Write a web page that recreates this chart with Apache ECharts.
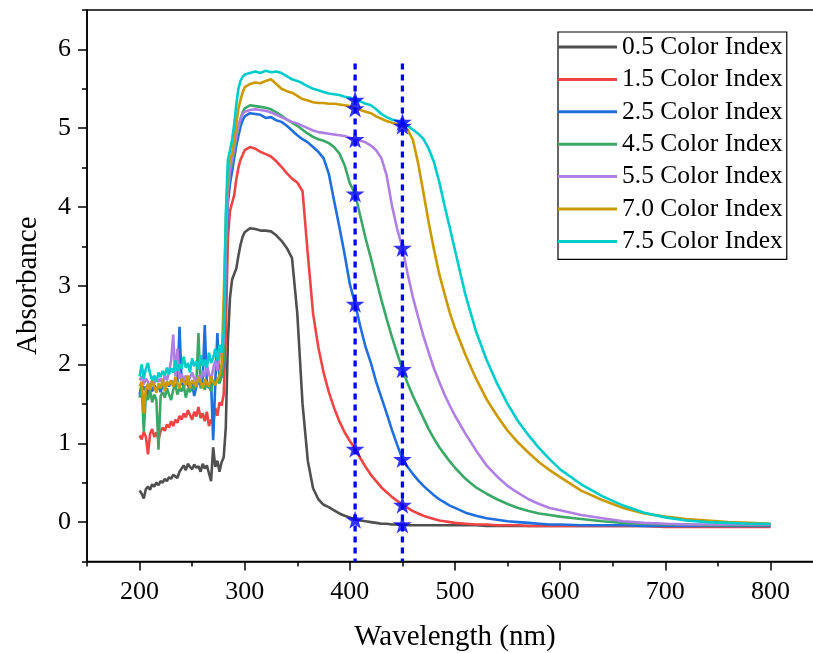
<!DOCTYPE html>
<html>
<head>
<meta charset="utf-8">
<script src="https://cdn.jsdelivr.net/npm/echarts@6/dist/echarts.min.js"></script>
<style>
  html, body { margin: 0; padding: 0; background: #ffffff; }
  #chart { width: 813px; height: 653px; }
</style>
</head>
<body>
<div id="chart"></div>
<script>
// Wavelength grid (nm) shared by every absorbance spectrum
const wavelength = [
  200,202,204,206,208,210,212,214,216,218,
  220,222,224,226,228,230,232,234,236,238,
  240,242,244,246,248,250,252,254,256,258,
  260,262,264,266,268,270,272,274,276,278,
  280,
  282,284,286,288,290,292,294,296,298,300,
  305,310,315,320,325,330,335,340,345,350,
  355,360,365,370,375,380,385,390,395,400,
  405,410,415,420,425,430,435,440,445,450,
  455,460,465,470,475,480,485,490,495,500,
  510,520,530,540,550,560,570,580,590,600,
  620,640,660,680,700,720,740,760,780,800
];

const seriesNames = [
  '0.5 Color Index', '1.5 Color Index', '2.5 Color Index', '4.5 Color Index',
  '5.5 Color Index', '7.0 Color Index', '7.5 Color Index'
];

const abs05 = [
  0.40,0.36,0.30,0.42,0.45,0.41,0.48,0.45,0.50,0.47,
  0.52,0.50,0.55,0.52,0.57,0.55,0.60,0.58,0.56,0.64,
  0.68,0.72,0.66,0.74,0.70,0.67,0.73,0.69,0.71,0.64,
  0.74,0.68,0.72,0.62,0.52,0.95,0.70,0.78,0.64,0.76,
  0.82,
  1.20,2.30,2.85,3.08,3.15,3.22,3.38,3.52,3.62,3.68,
  3.73,3.72,3.70,3.70,3.69,3.64,3.57,3.48,3.35,2.65,
  1.50,0.78,0.43,0.29,0.22,0.19,0.15,0.11,0.08,0.06,
  0.03,0.02,0.01,0.00,-0.01,-0.02,-0.02,-0.03,-0.03,-0.03,
  -0.04,-0.04,-0.04,-0.04,-0.04,-0.04,-0.04,-0.04,-0.04,-0.04,
  -0.04,-0.04,-0.05,-0.05,-0.05,-0.05,-0.05,-0.05,-0.05,-0.05,
  -0.05,-0.05,-0.05,-0.05,-0.05,-0.05,-0.05,-0.05,-0.05,-0.05
];

const abs15 = [
  1.10,1.05,1.15,1.08,0.86,1.12,1.18,1.08,1.14,1.05,
  1.15,1.20,1.16,1.24,1.20,1.28,1.22,1.30,1.26,1.35,
  1.30,1.38,1.33,1.42,1.36,1.30,1.40,1.34,1.46,1.32,
  1.38,1.28,1.40,1.22,1.30,1.25,1.45,1.35,1.52,1.48,
  1.62,
  2.40,3.60,3.95,4.05,4.15,4.35,4.50,4.60,4.66,4.72,
  4.76,4.74,4.70,4.67,4.64,4.58,4.51,4.43,4.36,4.31,
  4.20,3.40,2.65,2.22,1.90,1.65,1.45,1.28,1.14,1.03,
  0.93,0.81,0.70,0.60,0.52,0.44,0.38,0.32,0.27,0.22,
  0.18,0.14,0.11,0.08,0.06,0.04,0.02,0.01,0.00,-0.01,
  -0.02,-0.03,-0.03,-0.04,-0.04,-0.04,-0.05,-0.05,-0.05,-0.05,
  -0.05,-0.05,-0.05,-0.05,-0.06,-0.06,-0.06,-0.06,-0.06,-0.06
];

const abs25 = [
  1.62,1.75,1.68,1.72,1.60,1.70,1.66,1.74,1.68,1.72,
  1.65,1.75,1.70,1.78,1.72,1.80,1.74,1.70,1.78,2.48,
  1.76,1.72,1.80,1.74,1.68,1.76,1.60,1.72,1.78,1.74,
  1.80,2.50,1.75,1.70,1.78,1.04,1.76,2.40,1.80,1.85,
  2.00,
  3.20,4.05,4.30,4.45,4.62,4.78,4.90,5.02,5.10,5.15,
  5.19,5.18,5.17,5.13,5.14,5.10,5.08,5.03,4.97,4.91,
  4.86,4.82,4.76,4.70,4.62,4.42,4.08,3.75,3.40,3.02,
  2.77,2.48,2.22,2.02,1.78,1.58,1.38,1.17,0.98,0.80,
  0.70,0.61,0.53,0.46,0.40,0.34,0.29,0.25,0.21,0.18,
  0.12,0.08,0.05,0.03,0.01,0.00,-0.01,-0.02,-0.03,-0.03,
  -0.04,-0.04,-0.04,-0.05,-0.05,-0.05,-0.05,-0.05,-0.05,-0.05
];

const abs45 = [
  1.58,1.72,1.15,1.60,1.55,1.68,1.52,1.62,1.55,0.92,
  1.60,1.65,1.58,1.70,1.62,1.55,1.68,1.75,1.62,1.70,
  1.66,1.74,1.58,1.70,1.65,1.72,1.68,1.76,2.40,1.70,
  1.74,1.68,1.78,1.72,1.66,1.80,1.74,1.82,1.76,1.85,
  2.05,
  3.50,4.25,4.45,4.55,4.72,4.88,5.00,5.12,5.20,5.25,
  5.29,5.28,5.27,5.26,5.24,5.20,5.16,5.11,5.07,5.03,
  4.98,4.93,4.89,4.86,4.84,4.81,4.76,4.68,4.53,4.30,
  4.17,3.88,3.60,3.35,3.08,2.82,2.58,2.35,2.14,1.94,
  1.76,1.60,1.46,1.32,1.18,1.06,0.95,0.86,0.77,0.69,
  0.55,0.44,0.36,0.29,0.23,0.18,0.14,0.11,0.09,0.07,
  0.04,0.01,-0.01,-0.02,-0.03,-0.03,-0.04,-0.04,-0.04,-0.04
];

const abs55 = [
  1.80,1.85,1.75,1.82,1.78,1.72,1.80,1.76,1.84,1.78,
  1.82,1.76,1.86,1.80,1.90,2.05,2.38,1.85,2.20,1.82,
  1.88,1.80,1.86,1.78,1.84,1.90,1.82,1.78,1.86,1.80,
  1.92,1.84,2.00,1.88,1.80,1.95,2.05,1.92,2.10,2.15,
  2.30,
  3.40,4.20,4.48,4.60,4.75,4.90,5.02,5.12,5.18,5.21,
  5.23,5.24,5.23,5.22,5.20,5.17,5.14,5.11,5.08,5.06,
  5.03,5.00,4.97,4.95,4.94,4.93,4.92,4.91,4.90,4.88,
  4.86,4.84,4.82,4.78,4.72,4.62,4.40,4.02,3.72,3.48,
  3.15,2.85,2.60,2.36,2.15,1.95,1.78,1.62,1.48,1.35,
  1.12,0.91,0.72,0.58,0.46,0.37,0.29,0.23,0.18,0.15,
  0.09,0.05,0.01,-0.01,-0.02,-0.03,-0.03,-0.03,-0.03,-0.03
];

const abs70 = [
  1.72,1.78,1.38,1.70,1.75,1.68,1.80,1.72,1.64,1.76,
  1.70,1.82,1.66,1.78,1.74,1.80,1.72,1.84,1.76,1.70,
  1.82,1.78,1.74,1.86,1.70,1.80,1.76,1.72,1.84,1.78,
  1.70,1.82,1.76,1.72,1.85,1.78,1.74,1.80,1.86,2.00,
  2.85,
  3.80,4.45,4.60,4.68,4.85,5.05,5.25,5.36,5.45,5.52,
  5.56,5.58,5.57,5.60,5.62,5.56,5.50,5.47,5.45,5.41,
  5.37,5.35,5.33,5.32,5.32,5.31,5.31,5.30,5.29,5.28,
  5.25,5.23,5.21,5.19,5.15,5.12,5.09,5.07,5.05,5.03,
  4.98,4.85,4.55,4.18,3.80,3.46,3.15,2.90,2.66,2.46,
  2.12,1.82,1.56,1.35,1.16,1.01,0.88,0.76,0.66,0.57,
  0.40,0.28,0.18,0.11,0.07,0.04,0.02,0.00,-0.01,-0.02
];

const abs75 = [
  1.85,2.00,1.82,1.95,2.02,1.88,1.80,1.86,1.78,1.90,
  1.84,1.92,1.86,1.96,1.88,1.95,1.90,2.05,1.92,2.00,
  1.95,2.10,1.96,2.02,1.90,2.08,1.98,2.04,1.94,2.12,
  1.98,2.06,1.96,2.15,2.02,2.08,2.20,2.05,2.25,2.15,
  2.40,
  3.90,4.60,4.72,4.85,5.05,5.30,5.50,5.60,5.65,5.68,
  5.70,5.72,5.70,5.73,5.71,5.72,5.70,5.66,5.62,5.60,
  5.57,5.53,5.50,5.48,5.46,5.44,5.43,5.42,5.40,5.39,
  5.36,5.34,5.31,5.29,5.24,5.18,5.14,5.11,5.09,5.08,
  5.03,4.98,4.93,4.86,4.74,4.57,4.32,4.02,3.74,3.45,
  2.88,2.42,2.06,1.76,1.50,1.28,1.10,0.94,0.80,0.67,
  0.48,0.33,0.21,0.12,0.06,0.02,0.00,-0.01,-0.02,-0.02
];

const spectra = [abs05, abs15, abs25, abs45, abs55, abs70, abs75];

// Reference wavelengths and the absorbance read at each of them
const markerWavelengths = [405, 450];
const starsAt405 = [0.03, 0.93, 2.77, 4.17, 4.86, 5.25, 5.36];
const starsAt450 = [-0.03, 0.22, 0.80, 1.94, 3.48, 5.03, 5.08];

// Axis ticks
const xTickLabels = [200, 300, 400, 500, 600, 700, 800];
const xMinorTicks = [150, 250, 350, 450, 550, 650, 750, 850];
const yTickLabels = [0, 1, 2, 3, 4, 5, 6];
const yMinorTicks = [-0.5, 0.5, 1.5, 2.5, 3.5, 4.5, 5.5, 6.5];

const palette = ['#505050', '#ef4444', '#1f6fde', '#3aa866', '#b07fe3', '#cc9900', '#00cccc'];
const FONT = 'Liberation Serif';
const STAR = 'path://M50,0 L61.2,34.5 L97.6,34.5 L68.2,55.9 L79.4,90.5 L50,69.1 L20.6,90.5 L31.8,55.9 L2.4,34.5 L38.8,34.5 Z';

const chart = echarts.init(document.getElementById('chart'), null, { renderer: 'canvas' });

const curveSeries = seriesNames.map((name, i) => ({
  name: name,
  type: 'line',
  data: wavelength.map((w, k) => [w, spectra[i][k]]),
  symbol: 'none',
  smooth: false,
  lineStyle: { color: palette[i], width: 2.6 },
  itemStyle: { color: palette[i] },
  z: 2 + i * 0.01,
  animation: false
}));

const markerTop = 5.82;
const guideSeries = markerWavelengths.map(w => ({
  type: 'line',
  data: [[w, markerTop], [w, -0.5]],
  symbol: 'none',
  silent: true,
  lineStyle: { color: '#0000ff', width: 3.3, type: [6, 5] },
  z: 4,
  animation: false
}));

const guideLabelSeries = {
  type: 'scatter',
  data: markerWavelengths.map(w => [w, markerTop]),
  symbol: 'none',
  silent: true,
  label: {
    show: true,
    position: 'top',
    distance: 2,
    formatter: p => String(p.value[0]),
    fontFamily: FONT,
    fontSize: 24,
    color: '#000'
  },
  z: 5,
  animation: false
};

const starSeries = {
  type: 'scatter',
  data: starsAt405.map(v => [markerWavelengths[0], v])
    .concat(starsAt450.map(v => [markerWavelengths[1], v])),
  symbol: STAR,
  symbolSize: [19, 18],
  itemStyle: { color: '#0000ff' },
  silent: true,
  z: 6,
  animation: false
};

const option = {
  animation: false,
  backgroundColor: '#ffffff',
  textStyle: { fontFamily: FONT, color: '#000' },
  grid: {
    left: 87, top: 10, width: 736, height: 551.5,
    outerBoundsMode: 'none',
    containLabel: false,
    show: true, borderColor: '#000', borderWidth: 1.5, backgroundColor: 'transparent'
  },
  legend: {
    data: seriesNames,
    orient: 'vertical',
    left: 558, top: 32,
    padding: [2, 4, 5, 0],
    icon: 'rect',
    itemWidth: 59, itemHeight: 3, itemGap: 6.4,
    borderColor: '#000', borderWidth: 1.2,
    backgroundColor: '#fff',
    textStyle: { fontFamily: FONT, fontSize: 25.5, color: '#000', lineHeight: 26 },
    selectedMode: false
  },
  xAxis: [{
    type: 'value', min: 150, max: 850,
    name: 'Wavelength (nm)', nameLocation: 'middle', nameGap: 61,
    nameTextStyle: { fontFamily: FONT, fontSize: 29, color: '#000' },
    axisLine: { show: true, onZero: false, lineStyle: { color: '#000', width: 1.5 } },
    axisTick: { show: true, inside: false, length: 9, customValues: xTickLabels, lineStyle: { color: '#000', width: 1.5 } },
    axisLabel: { show: true, margin: 18, customValues: xTickLabels, fontFamily: FONT, fontSize: 26, color: '#000' },
    splitLine: { show: false }
  }, {
    type: 'value', min: 150, max: 850, position: 'bottom',
    axisLine: { show: false, onZero: false },
    axisTick: { show: true, inside: false, length: 5, customValues: xMinorTicks, lineStyle: { color: '#000', width: 1.5 } },
    axisLabel: { show: false },
    splitLine: { show: false }
  }],
  yAxis: [{
    type: 'value', min: -0.5, max: 6.5,
    name: 'Absorbance', nameLocation: 'middle', nameGap: 44,
    nameTextStyle: { fontFamily: FONT, fontSize: 29, color: '#000' },
    axisLine: { show: true, onZero: false, lineStyle: { color: '#000', width: 1.5 } },
    axisTick: { show: true, inside: false, length: 9, customValues: yTickLabels, lineStyle: { color: '#000', width: 1.5 } },
    axisLabel: { show: true, margin: 16, customValues: yTickLabels, fontFamily: FONT, fontSize: 26, color: '#000' },
    splitLine: { show: false }
  }, {
    type: 'value', min: -0.5, max: 6.5, position: 'left',
    axisLine: { show: false, onZero: false },
    axisTick: { show: true, inside: false, length: 5, customValues: yMinorTicks, lineStyle: { color: '#000', width: 1.5 } },
    axisLabel: { show: false },
    splitLine: { show: false }
  }],
  series: curveSeries.concat(guideSeries, [guideLabelSeries, starSeries])
};

chart.setOption(option);
</script>
</body>
</html>
